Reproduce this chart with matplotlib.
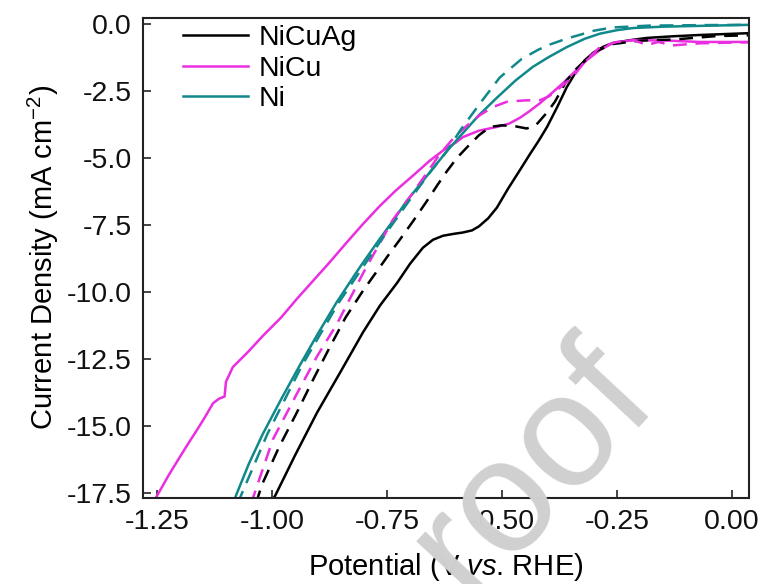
import numpy as np
import matplotlib.pyplot as plt

plt.rcParams['font.family'] = ['Liberation Sans', 'DejaVu Sans']
plt.rcParams['mathtext.fontset'] = 'custom'
plt.rcParams['mathtext.rm'] = 'Liberation Sans'
plt.rcParams['mathtext.it'] = 'Liberation Sans:italic'
plt.rcParams['axes.unicode_minus'] = False

# NiCuAg
nicuag_x = [-1.005, -0.993, -0.95, -0.902, -0.85, -0.802, -0.765, -0.728, -0.70, -0.672,
            -0.65, -0.628, -0.605, -0.585, -0.565, -0.55, -0.53, -0.511, -0.487, -0.461,
            -0.439, -0.42, -0.402, -0.38, -0.359, -0.337, -0.32, -0.302, -0.28, -0.259,
            -0.22, -0.185, -0.13, -0.07, 0.04]
nicuag_y = [-17.9, -17.6, -16.1, -14.5, -12.95, -11.5, -10.5, -9.66, -8.95, -8.35,
            -8.05, -7.9, -7.83, -7.78, -7.7, -7.55, -7.25, -6.85, -6.15, -5.45,
            -4.85, -4.35, -3.84, -3.1, -2.35, -1.72, -1.35, -1.08, -0.85, -0.71,
            -0.6, -0.52, -0.46, -0.41, -0.34]
nicuag_dx = [-1.035, -1.022, -0.985, -0.946, -0.91, -0.874, -0.84, -0.802, -0.775, -0.748,
             -0.72, -0.693, -0.663, -0.64, -0.62, -0.598, -0.576, -0.55, -0.526, -0.50,
             -0.47, -0.446, -0.425, -0.402, -0.385, -0.359, -0.34, -0.30, -0.26, -0.2,
             -0.128, -0.033, 0.04]
nicuag_dy = [-17.9, -17.2, -15.8, -14.5, -13.25, -12.05, -10.95, -9.95, -9.3, -8.65,
             -8.0, -7.35, -6.6, -6.0, -5.5, -5.0, -4.6, -4.15, -3.84, -3.78,
             -3.82, -3.9, -3.75, -3.3, -2.9, -2.1, -1.7, -1.05, -0.75, -0.62,
             -0.58, -0.45, -0.42]

# NiCu
nicu_x = [-1.26, -1.252, -1.225, -1.2, -1.18, -1.163, -1.145, -1.128, -1.115, -1.103,
          -1.1, -1.085, -1.05, -1.02, -0.98, -0.946, -0.91, -0.874, -0.84, -0.802,
          -0.765, -0.73, -0.693, -0.657, -0.628, -0.60, -0.585, -0.55, -0.511, -0.485,
          -0.461, -0.44, -0.417, -0.39, -0.367, -0.34, -0.315, -0.287, -0.259, -0.215,
          -0.14, -0.07, 0.04]
nicu_y = [-17.9, -17.67, -16.85, -16.15, -15.6, -15.15, -14.65, -14.15, -13.98, -13.9,
          -13.35, -12.8, -12.2, -11.64, -10.95, -10.26, -9.57, -8.88, -8.2, -7.46,
          -6.78, -6.2, -5.65, -5.1, -4.72, -4.42, -4.22, -3.98, -3.84, -3.72,
          -3.5, -3.25, -2.95, -2.55, -2.2, -1.75, -1.34, -0.97, -0.71, -0.6,
          -0.62, -0.67, -0.67]
nicu_dx = [-1.045, -1.041, -0.998, -0.946, -0.902, -0.859, -0.802, -0.737, -0.70, -0.665,
           -0.635, -0.61, -0.59, -0.57, -0.548, -0.52, -0.489, -0.45, -0.417, -0.398,
           -0.38, -0.346, -0.32, -0.287, -0.25, -0.215, -0.185, -0.16, -0.13, -0.07,
           0.04]
nicu_dy = [-17.9, -17.67, -15.5, -13.8, -12.4, -11.2, -9.3, -7.3, -6.45, -5.6,
           -4.85, -4.35, -4.0, -3.7, -3.4, -3.1, -2.9, -2.85, -2.84, -2.7,
           -2.46, -1.98, -1.4, -0.86, -0.67, -0.6, -0.78, -0.67, -0.8, -0.72,
           -0.68]

# Ni
ni_x = [-1.085, -1.076, -1.05, -1.02, -0.98, -0.94, -0.90, -0.86, -0.81, -0.765,
        -0.735, -0.707, -0.66, -0.62, -0.585, -0.55, -0.511, -0.47, -0.433, -0.40,
        -0.359, -0.32, -0.287, -0.25, -0.215, -0.15, -0.07, 0.04]
ni_y = [-17.9, -17.5, -16.4, -15.3, -14.0, -12.75, -11.55, -10.4, -9.1, -8.0,
        -7.3, -6.6, -5.6, -4.75, -4.07, -3.4, -2.75, -2.1, -1.6, -1.25,
        -0.86, -0.55, -0.36, -0.23, -0.15, -0.1, -0.07, -0.03]
ni_dx = [-1.075, -1.01, -0.935, -0.855, -0.76, -0.70, -0.655, -0.62, -0.59, -0.545,
         -0.505, -0.457, -0.42, -0.395, -0.36, -0.33, -0.30, -0.26, -0.18, -0.05,
         0.04]
ni_dy = [-17.9, -15.3, -12.75, -10.4, -8.0, -6.55, -5.5, -4.75, -3.95, -2.9,
         -2.0, -1.3, -0.95, -0.76, -0.55, -0.4, -0.25, -0.13, -0.06, -0.04,
         -0.03]

labels = ['NiCuAg', 'NiCu', 'Ni']
colors = ['black', '#ea2ee0', '#11898b']

fig = plt.figure(figsize=(7.63, 5.84), dpi=100)
ax = fig.add_axes([0.187, 0.148, 0.7947, 0.821])

dash = (5.5, 3.5)
lw = 1.8
ax.plot(nicuag_x, nicuag_y, color=colors[0], lw=lw, label=labels[0])
ax.plot(nicu_x, nicu_y, color=colors[1], lw=lw, label=labels[1])
ax.plot(ni_x, ni_y, color=colors[2], lw=lw, label=labels[2])
ax.plot(nicuag_dx, nicuag_dy, color=colors[0], lw=lw, dashes=dash)
ax.plot(nicu_dx, nicu_dy, color=colors[1], lw=lw, dashes=dash)
ax.plot(ni_dx, ni_dy, color=colors[2], lw=lw, dashes=dash)

ax.set_xlim(-1.281, 0.037)
ax.set_ylim(-17.67, 0.22)
ax.set_xticks([-1.25, -1.0, -0.75, -0.5, -0.25, 0.0])
ax.set_xticklabels(['-1.25', '-1.00', '-0.75', '-0.50', '-0.25', '0.00'])
ax.set_yticks([0, -2.5, -5, -7.5, -10, -12.5, -15, -17.5])
ax.set_yticklabels(['0.0', '-2.5', '-5.0', '-7.5', '-10.0', '-12.5', '-15.0', '-17.5'])
ax.tick_params(direction='in', length=6, width=1.1, labelsize=20.5, colors='#111111')
ax.tick_params(axis='x', pad=8)
ax.tick_params(axis='y', pad=8)
for s in ax.spines.values():
    s.set_linewidth(1.5)
    s.set_color('#222222')

ax.set_xlabel('Potential (V $\\it{vs}$. RHE)', fontsize=21, labelpad=12)
ax.set_ylabel('Current Density (mA cm$^{\\mathregular{-2}}$)', fontsize=21, labelpad=4)

ax.legend(loc='upper left', bbox_to_anchor=(0.066, 0.985), frameon=False, fontsize=20.5,
          handlelength=2.3, handletextpad=0.35, labelspacing=0.15, borderpad=0,
          borderaxespad=0)

# watermark
fig.text(0.697, 0.195, 'roof', fontsize=116, color='#d0d0d0', rotation=47,
         ha='center', va='center', zorder=10)

fig.savefig('out.png', dpi=100)
